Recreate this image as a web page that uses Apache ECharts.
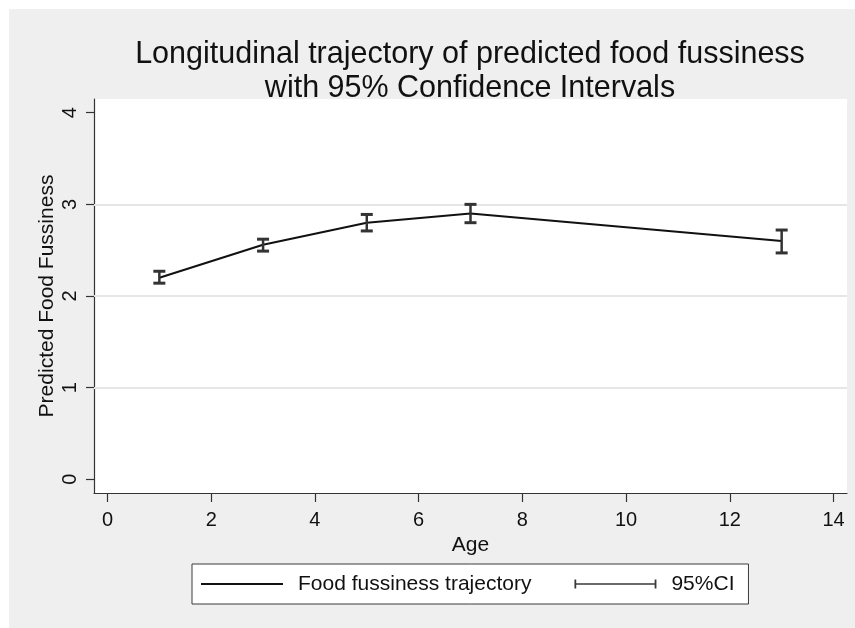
<!DOCTYPE html>
<html>
<head>
<meta charset="utf-8">
<script src="https://cdn.jsdelivr.net/npm/echarts@6/dist/echarts.min.js"></script>
<style>
  html, body { margin: 0; padding: 0; background: #ffffff; overflow: hidden; }
  #wrap { position: relative; width: 855px; height: 628px; background: #ffffff; }
  #main { position: absolute; left: 9px; top: 9px; width: 846px; height: 619px; }
</style>
</head>
<body>
<div id="wrap"><div id="main"></div></div>
<script>
// values
var ages = [1, 3, 5, 7, 13];
var predicted = [2.20, 2.56, 2.80, 2.90, 2.60];
var ciLow = [2.14, 2.49, 2.71, 2.80, 2.47];
var ciHigh = [2.27, 2.62, 2.89, 3.00, 2.72];

var xTicks = [0, 2, 4, 6, 8, 10, 12, 14];
var yTicks = [0, 1, 2, 3, 4];
var gridLevels = [1, 2, 3];

var FONT = "'Liberation Sans', Arial, sans-serif";

var linePoints = ages.map(function (a, i) { return [a, predicted[i]]; });
var ciPoints = ages.map(function (a, i) { return [a, ciLow[i], ciHigh[i]]; });

// error bar: stem + two caps
function renderCI(params, api) {
  var x = api.value(0);
  var lo = api.coord([x, api.value(1)]);
  var hi = api.coord([x, api.value(2)]);
  var w = 6;
  var stem = { stroke: '#333333', lineWidth: 2.5 };
  var cap = { stroke: '#333333', lineWidth: 3 };
  return {
    type: 'group',
    children: [
      { type: 'line', shape: { x1: hi[0], y1: hi[1], x2: lo[0], y2: lo[1] }, style: stem },
      { type: 'line', shape: { x1: hi[0] - w, y1: hi[1], x2: hi[0] + w, y2: hi[1] }, style: cap },
      { type: 'line', shape: { x1: lo[0] - w, y1: lo[1], x2: lo[0] + w, y2: lo[1] }, style: cap }
    ]
  };
}

var chart = echarts.init(document.getElementById('main'));
var option = {
  backgroundColor: '#efefef',
  animation: false,
  textStyle: { fontFamily: FONT },
  title: {
    text: 'Longitudinal trajectory of predicted food fussiness\nwith 95% Confidence Intervals',
    left: 456,
    top: 24,
    textAlign: 'center',
    textStyle: { fontFamily: FONT, fontSize: 30.5, fontWeight: 'normal', color: '#111111', lineHeight: 33.5 }
  },
  grid: {
    left: 85, top: 90, width: 753, height: 394,
    show: true, backgroundColor: '#ffffff', borderWidth: 0
  },
  legend: {
    left: 183, top: 555,
    orient: 'horizontal',
    backgroundColor: '#ffffff',
    borderColor: '#3a3a3a',
    borderWidth: 1,
    borderRadius: 0,
    padding: [9.5, 14, 9.5, 9],
    itemWidth: 82,
    itemHeight: 10,
    itemGap: 43,
    symbolKeepAspect: false,
    selectedMode: false,
    textStyle: { fontFamily: FONT, fontSize: 21, color: '#111111', padding: [0, 0, 0, 10] },
    data: [
      { name: 'Food fussiness trajectory', icon: 'path://M0,0L0,0M0,4.1H82V5.9H0ZM0,10L0,10', itemStyle: { color: '#111111' } },
      { name: '95%CI', icon: 'path://M0,0L0,0M0,0.6H1.8V4.2H80.2V0.6H82V9.4H80.2V5.8H1.8V9.4H0ZM0,10L0,10', itemStyle: { color: '#3a3a3a' } }
    ]
  },
  xAxis: {
    type: 'value',
    min: -0.26,
    max: 14.26,
    name: 'Age',
    nameLocation: 'middle',
    nameGap: 37,
    nameTextStyle: { fontFamily: FONT, fontSize: 21, color: '#111111' },
    axisLine: { show: true, onZero: false, lineStyle: { color: '#333333', width: 1.2 } },
    axisTick: { show: true, length: 9, customValues: xTicks, lineStyle: { color: '#333333', width: 1.2 } },
    axisLabel: { customValues: xTicks, margin: 17, fontFamily: FONT, fontSize: 20, color: '#111111' },
    splitLine: { show: false }
  },
  yAxis: {
    type: 'value',
    min: -0.15,
    max: 4.15,
    name: 'Predicted Food Fussiness',
    nameLocation: 'middle',
    nameGap: 36,
    nameMoveOverlap: false,
    nameTextStyle: { fontFamily: FONT, fontSize: 21, color: '#111111' },
    axisLine: { show: true, onZero: false, lineStyle: { color: '#333333', width: 1.2 } },
    axisTick: { show: true, length: 8, customValues: yTicks, lineStyle: { color: '#333333', width: 1.2 } },
    axisLabel: { customValues: yTicks, rotate: 90, margin: 14, fontFamily: FONT, fontSize: 20, color: '#111111' },
    splitLine: { show: false }
  },
  series: [
    {
      name: 'grid',
      type: 'line',
      data: [],
      z: 1,
      silent: true,
      markLine: {
        silent: true,
        z: 1,
        symbol: ['none', 'none'],
        label: { show: false },
        lineStyle: { color: '#e6e6e6', width: 2, type: 'solid' },
        data: gridLevels.map(function (v) { return { yAxis: v }; })
      }
    },
    {
      name: 'Food fussiness trajectory',
      type: 'line',
      data: linePoints,
      z: 8,
      symbol: 'none',
      color: '#111111',
      lineStyle: { color: '#111111', width: 2 }
    },
    {
      name: '95%CI',
      type: 'custom',
      data: ciPoints,
      z: 9,
      itemStyle: { color: '#3a3a3a' },
      encode: { x: 0, y: [1, 2] },
      renderItem: renderCI
    }
  ]
};
chart.setOption(option);
</script>
</body>
</html>
